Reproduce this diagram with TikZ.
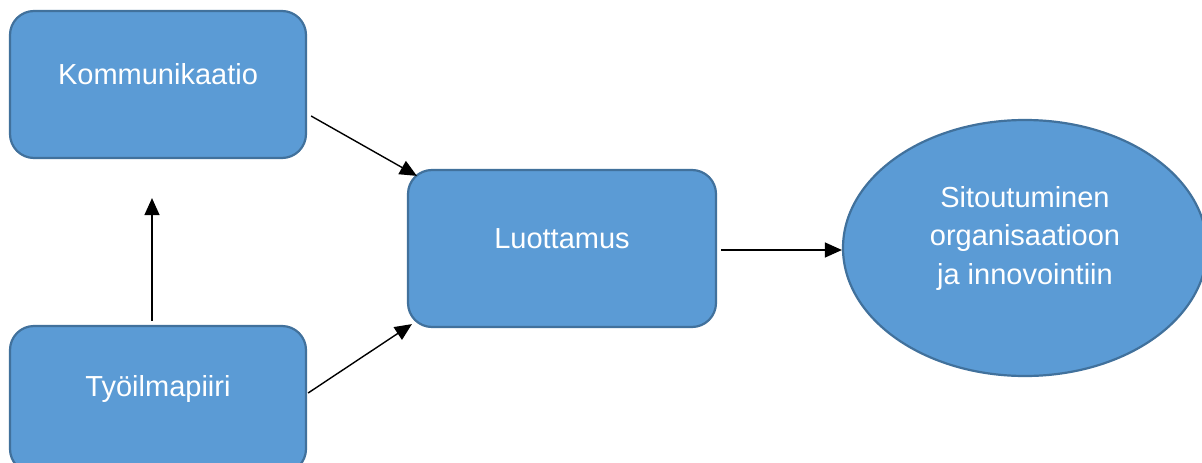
\documentclass[tikz,border=0pt]{standalone}
\usepackage{fontspec}
\setmainfont{Liberation Sans}
\usetikzlibrary{arrows.meta,shapes.geometric}
\definecolor{boxfill}{HTML}{5B9BD5}
\definecolor{boxline}{HTML}{41719C}
\tikzset{
  box/.style={draw=boxline, fill=boxfill, line width=2.2pt, rounded corners=24pt},
  oval/.style={ellipse, draw=boxline, fill=boxfill, line width=2.2pt, inner sep=0pt},
  txt/.style={text=white, font=\fontsize{29}{38.5}\selectfont, align=center, inner sep=0pt},
  arr/.style={line width=1.4pt, -{Triangle[length=17pt,width=15pt]}}
}
\begin{document}
\begin{tikzpicture}[x=1pt, y=-1pt]
  \clip (0,0) rectangle (1202,463);
  \fill[white] (0,0) rectangle (1202,463);

  % boxes
  \node[box, minimum width=296pt, minimum height=147pt] (k) at (158,84.5) {};
  \node[box, minimum width=296pt, minimum height=147pt] (t) at (158,399.5) {};
  \node[box, minimum width=308pt, minimum height=157pt] (l) at (562,248.5) {};
  \node[oval, minimum width=364pt, minimum height=256pt] (s) at (1025,248) {};

  % labels
  \node[txt] (kt) at ([yshift=10pt]k.center) {Kommunikaatio};
  \node[txt] (tt) at ([yshift=11pt]t.center) {Työilmapiiri};
  \node[txt] (lt) at ([yshift=10pt]l.center) {Luottamus};
  \node[txt] (st) at ([yshift=10pt]s.center) {Sitoutuminen\\organisaatioon\\ja innovointiin};

  % connectors
  \draw[arr] ([shift={(4,31.5)}]k.east) -- ([shift={(10,7)}]l.north west);
  \draw[arr] ([shift={(1,-6.5)}]t.east) -- ([shift={(5,-4)}]l.south west);
  \draw[arr] ([shift={(-6,-4)}]t.north) -- ([shift={(-6,39)}]k.south);
  \draw[arr] ([shift={(4,1.5)}]l.east) -- ([shift={(0,2)}]s.west);
\end{tikzpicture}
\end{document}
